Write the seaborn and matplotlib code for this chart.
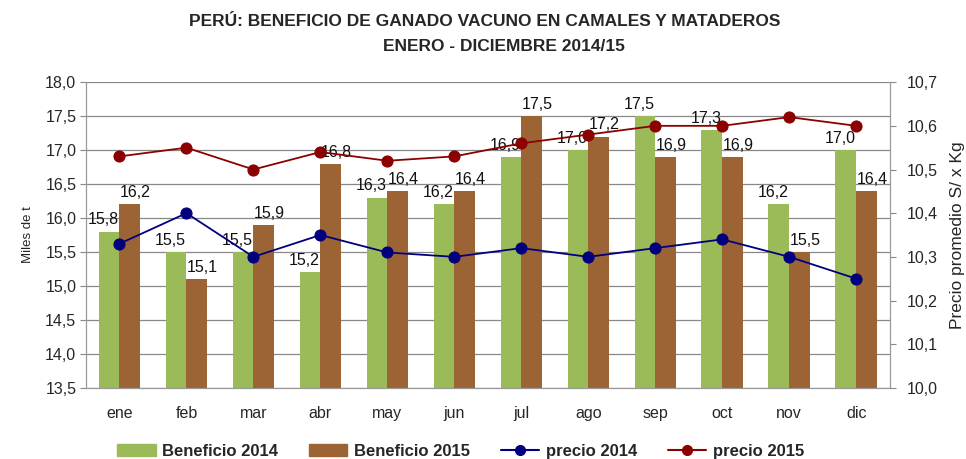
import pandas as pd
import numpy as np
import matplotlib.pyplot as plt
import seaborn as sns
from matplotlib.patches import Patch
from matplotlib.lines import Line2D

# Data
meses = ['ene', 'feb', 'mar', 'abr', 'may', 'jun', 'jul', 'ago', 'sep', 'oct', 'nov', 'dic']
beneficio_2014 = [15.8, 15.5, 15.5, 15.2, 16.3, 16.2, 16.9, 17.0, 17.5, 17.3, 16.2, 17.0]
beneficio_2015 = [16.2, 15.1, 15.9, 16.8, 16.4, 16.4, 17.5, 17.2, 16.9, 16.9, 15.5, 16.4]
precio_2014 = [10.33, 10.40, 10.30, 10.35, 10.31, 10.30, 10.32, 10.30, 10.32, 10.34, 10.30, 10.25]
precio_2015 = [10.53, 10.55, 10.50, 10.54, 10.52, 10.53, 10.56, 10.58, 10.60, 10.60, 10.62, 10.60]

verde = '#9BBB59'
marron = '#9C6434'
azul = '#00007F'
rojo = '#8B0000'

sns.set_style('white')
plt.rcParams['font.family'] = ['Liberation Sans', 'DejaVu Sans']

df = pd.DataFrame({
    'mes': meses * 2,
    'valor': beneficio_2014 + beneficio_2015,
    'serie': ['Beneficio 2014'] * 12 + ['Beneficio 2015'] * 12,
})

fig = plt.figure(figsize=(9.66, 4.59), dpi=100)
ax = fig.add_axes([0.089, 0.155, 0.832, 0.666])

sns.barplot(data=df, x='mes', y='valor', hue='serie', palette=[verde, marron],
            saturation=1, width=0.62, gap=0, legend=False, ax=ax,
            linewidth=0, edgecolor='none', zorder=2)

def fmt(v):
    return f'{v:.1f}'.replace('.', ',')

# value labels, nudged apart so neighbours don't collide
for cont, dx in zip(ax.containers, [-4, 4]):
    for b in cont:
        h = b.get_height()
        ax.annotate(fmt(h), (b.get_x() + b.get_width() / 2, h),
                    xytext=(dx, 3), textcoords='offset points',
                    ha='center', va='bottom', fontsize=11.5, color='#111111', zorder=5)

ax.set_ylim(13.5, 18.0)
ax.set_yticks(np.arange(13.5, 18.01, 0.5))
ax.set_yticklabels([fmt(v) for v in np.arange(13.5, 18.01, 0.5)], fontsize=11.5)
ax.set_xlim(-0.5, 11.5)
ax.set_xlabel('')
ax.set_ylabel('Miles de t', fontsize=9.5, labelpad=8)
ax.grid(axis='y', color='#888888', linewidth=0.9, zorder=0)
ax.set_axisbelow(True)
ax.tick_params(axis='x', length=0, labelsize=11.5, pad=13)
ax.set_xticks(np.arange(-0.5, 12, 1), minor=True)
ax.tick_params(axis='x', which='minor', length=5, color='#888888', direction='out')
ax.tick_params(axis='y', length=4, color='#888888', direction='out', left=True, pad=3)
for s in ax.spines.values():
    s.set_color('#999999')
ax.spines['top'].set_visible(False)

ax2 = ax.twinx()
sns.lineplot(x=meses, y=precio_2014, color=azul, marker='o', markersize=8,
             markeredgecolor=azul, linewidth=1.3, ax=ax2, sort=False)
sns.lineplot(x=meses, y=precio_2015, color=rojo, marker='o', markersize=8,
             markeredgecolor=rojo, linewidth=1.3, ax=ax2, sort=False)
ax2.set_ylim(10.0, 10.7)
ax2.set_yticks(np.arange(10.0, 10.71, 0.1))
ax2.set_yticklabels([fmt(v) for v in np.arange(10.0, 10.71, 0.1)], fontsize=11.5)
ax2.set_ylabel('Precio promedio S/ x Kg', fontsize=12.5, labelpad=9)
ax2.tick_params(axis='y', length=4, color='#888888', direction='out', right=True, pad=8)
ax2.set_xlim(-0.5, 11.5)
for s in ax2.spines.values():
    s.set_color('#999999')
ax2.spines['top'].set_visible(False)

fig.text(0.502, 0.953, 'PERÚ: BENEFICIO DE GANADO VACUNO EN CAMALES Y MATADEROS',
         ha='center', va='center', fontsize=12.5, fontweight='bold')
fig.text(0.522, 0.898, 'ENERO - DICIEMBRE 2014/15',
         ha='center', va='center', fontsize=12.5, fontweight='bold')

handles = [
    Patch(color=verde, label='Beneficio 2014'),
    Patch(color=marron, label='Beneficio 2015'),
    Line2D([], [], color=azul, marker='o', markersize=7, linewidth=1.5, label='precio 2014'),
    Line2D([], [], color=rojo, marker='o', markersize=7, linewidth=1.5, label='precio 2015'),
]
fig.legend(handles=handles, loc='center', bbox_to_anchor=(0.477, 0.016), ncol=4,
           frameon=False, prop={'weight': 'bold', 'size': 12}, handlelength=2.3,
           handleheight=0.7, columnspacing=1.85, handletextpad=0.4)

fig.savefig('out.png', dpi=100)
